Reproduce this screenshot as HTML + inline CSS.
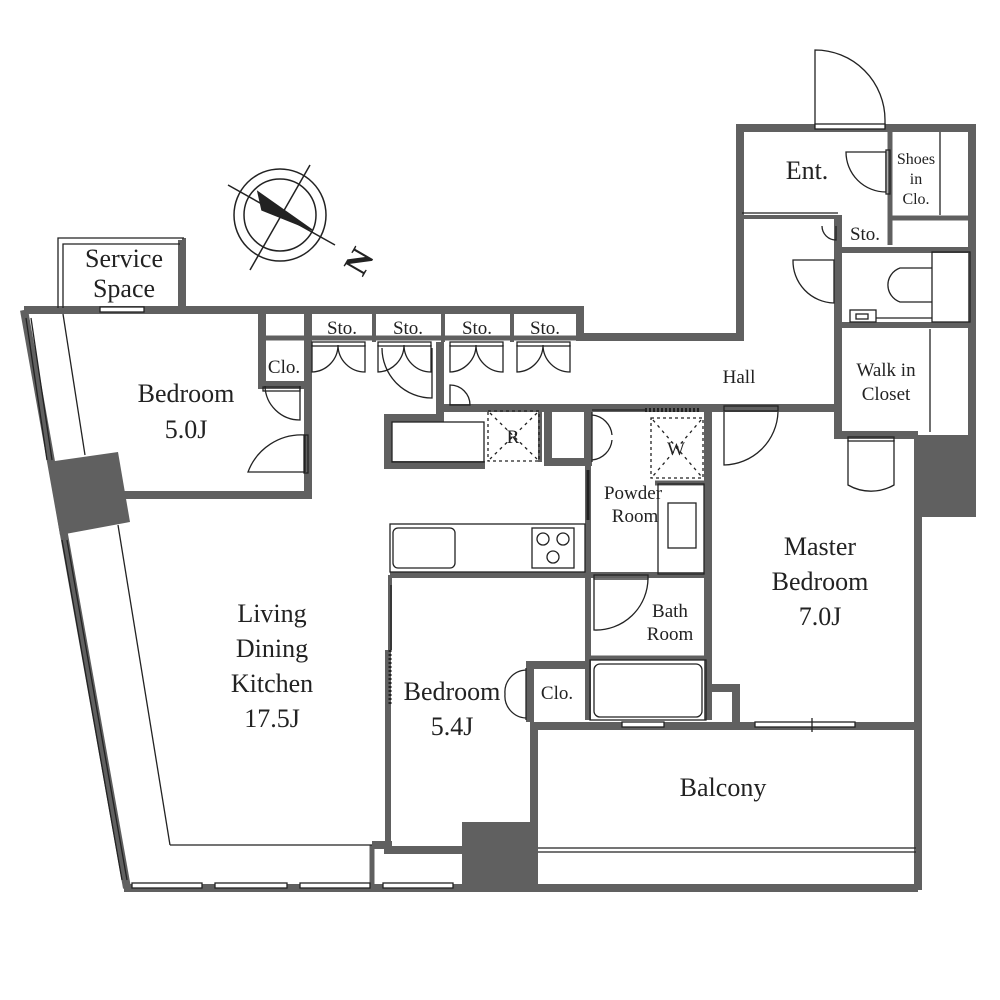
<!DOCTYPE html>
<html><head><style>
html,body{margin:0;padding:0;background:#fff;}
svg{display:block;}
text{font-family:"Liberation Serif",serif;fill:#222;}
</style></head><body>
<svg width="1000" height="1000" viewBox="0 0 1000 1000" xmlns="http://www.w3.org/2000/svg">
<g fill="none" stroke="#606060" stroke-width="8" stroke-linejoin="miter">
<polyline points="24,310 580,310 580,337 740,337 740,128 972,128 972,435"/>
<line x1="24" y1="310" x2="127" y2="888"/>
<line x1="124" y1="888" x2="462" y2="888"/>
<polyline points="182,310 182,240"/>
<polyline points="110,495 308,495 308,385"/>
<polyline points="262,310 262,385 308,385 308,310"/>
<line x1="262" y1="338" x2="580" y2="338" stroke-width="5"/>
<line x1="308" y1="314" x2="308" y2="342" stroke-width="4"/>
<line x1="374" y1="314" x2="374" y2="342" stroke-width="4"/>
<line x1="443" y1="314" x2="443" y2="342" stroke-width="4"/>
<line x1="512" y1="314" x2="512" y2="342" stroke-width="4"/>
<polyline points="440,342 440,408 838,408"/>
<polyline points="838,215 838,435 918,435"/>
<line x1="838" y1="325" x2="972" y2="325" stroke-width="6"/>
<line x1="838" y1="250" x2="972" y2="250" stroke-width="6"/>
<line x1="890" y1="128" x2="890" y2="245" stroke-width="5"/>
<line x1="890" y1="218" x2="972" y2="218" stroke-width="5"/>
<line x1="742" y1="217" x2="838" y2="217" stroke-width="4"/>
<polyline points="440,408 440,418 388,418 388,465 485,465"/>
<polyline points="548,408 548,462 588,462 588,408"/>
<line x1="485" y1="408" x2="548" y2="408"/>
<line x1="540" y1="408" x2="540" y2="462" stroke-width="4"/>
<line x1="588" y1="462" x2="588" y2="720" stroke-width="6"/>
<line x1="708" y1="408" x2="708" y2="720"/>
<line x1="655" y1="483" x2="708" y2="483" stroke-width="5"/>
<line x1="390" y1="575" x2="708" y2="575" stroke-width="6"/>
<line x1="588" y1="658" x2="708" y2="658" stroke-width="5"/>
<polyline points="708,688 736,688 736,722"/>
<line x1="390" y1="575" x2="390" y2="650" stroke-width="4"/>
<line x1="388" y1="650" x2="388" y2="845" stroke-width="6"/>
<polyline points="530,722 530,665 588,665"/>
<polyline points="372,845 388,845 388,850 462,850"/>
<line x1="372" y1="845" x2="372" y2="888" stroke-width="5"/>
<line x1="918" y1="435" x2="918" y2="890"/>
<line x1="530" y1="726" x2="918" y2="726"/>
<line x1="534" y1="726" x2="534" y2="890"/>
<line x1="534" y1="888" x2="918" y2="888"/>
</g>
<g fill="#606060">
<polygon points="48,462 118,452 130,522 60,535"/>
<rect x="918" y="435" width="58" height="82"/>
<rect x="462" y="822" width="72" height="70"/>
<rect x="182" y="238" width="4" height="72"/>
</g>
<g fill="none" stroke="#222" stroke-width="1.3">
<polyline points="58,308 58,238 184,238"/>
<polyline points="63,308 63,244 180,244"/>
<rect x="100" y="307" width="44" height="5" fill="#fff"/>
<line x1="26" y1="318" x2="47" y2="460"/>
<line x1="31" y1="318" x2="52" y2="460"/>
<line x1="62" y1="540" x2="122" y2="880"/>
<line x1="67" y1="540" x2="127" y2="880"/>
<line x1="63" y1="314" x2="85" y2="455"/>
<line x1="118" y1="525" x2="170" y2="845"/>
<line x1="170" y1="845" x2="372" y2="845"/>
<rect x="132" y="883" width="70" height="5" fill="#fff"/>
<rect x="215" y="883" width="72" height="5" fill="#fff"/>
<rect x="300" y="883" width="70" height="5" fill="#fff"/>
<rect x="383" y="883" width="70" height="5" fill="#fff"/>
<line x1="538" y1="848" x2="916" y2="848"/>
<line x1="538" y1="852" x2="916" y2="852"/>
<path d="M300,386 L300,420 A35,35 0 0 1 265,386"/>
<rect x="263" y="387" width="37" height="4"/>
<path d="M305,435 L305,472 M305,472 L248,472 A57,57 0 0 1 305,435"/>
<rect x="304" y="435" width="4" height="38"/>
<g id="sd">
<path d="M312,345 L312,372 A27,27 0 0 0 338,345 M365,345 L365,372 A27,27 0 0 1 338,345"/>
<rect x="312" y="342" width="53" height="4"/>
</g>
<use href="#sd" x="66"/><use href="#sd" x="138"/><use href="#sd" x="205"/>
<path d="M382,348 A50,50 0 0 0 432,398 L432,348"/>
<path d="M450,385 A20,20 0 0 1 470,405 L450,405 Z"/>
<rect x="392" y="422" width="92" height="40"/>
<rect x="488" y="411" width="51" height="50" stroke-dasharray="3,3"/>
<line x1="490" y1="413" x2="537" y2="459" stroke-dasharray="3,4"/>
<line x1="537" y1="413" x2="490" y2="459" stroke-dasharray="3,4"/>
<rect x="390" y="524" width="195" height="48"/>
<rect x="393" y="528" width="62" height="40" rx="5"/>
<rect x="532" y="528" width="42" height="40"/>
<circle cx="543" cy="539" r="6"/><circle cx="563" cy="539" r="6"/><circle cx="553" cy="557" r="6"/>
<line x1="588" y1="470" x2="588" y2="520" stroke-width="3"/>
<path d="M592,412 L592,462 M592,415 A22,22 0 0 1 612,435 M592,460 A22,22 0 0 0 612,440"/>
<rect x="651" y="418" width="52" height="60" stroke-dasharray="3,3"/>
<line x1="653" y1="420" x2="701" y2="476" stroke-dasharray="3,4"/>
<line x1="701" y1="420" x2="653" y2="476" stroke-dasharray="3,4"/>
<line x1="592" y1="410" x2="645" y2="410"/>
<line x1="645" y1="410" x2="700" y2="410" stroke-width="4" stroke-dasharray="2,2"/>
<rect x="658" y="484" width="46" height="90"/>
<rect x="668" y="503" width="28" height="45"/>
<path d="M594,578 L594,630 A52,52 0 0 0 648,578"/>
<rect x="594" y="575" width="54" height="4"/>
<rect x="590" y="660" width="116" height="60"/>
<rect x="594" y="664" width="108" height="53" rx="6"/>
<rect x="622" y="722" width="42" height="5" fill="#fff"/>
<rect x="755" y="722" width="100" height="5" fill="#fff"/>
<line x1="812" y1="718" x2="812" y2="732"/>
<line x1="391" y1="585" x2="391" y2="650"/>
<line x1="390" y1="650" x2="390" y2="705" stroke-width="3" stroke-dasharray="2,2"/>
<path d="M526,668 L526,720 M526,670 A22,22 0 0 0 505,694 A22,22 0 0 0 526,718"/>
<path d="M724,412 L724,465 A55,55 0 0 0 778,412"/>
<rect x="724" y="406" width="54" height="5"/>
<path d="M848,440 L848,485 A46,46 0 0 0 894,485 L894,440"/>
<rect x="848" y="437" width="46" height="4"/>
<path d="M834,260 L834,303 A42,42 0 0 1 793,260 Z"/>
<path d="M836,226 L836,240 A14,14 0 0 1 822,226"/>
<path d="M886,152 L886,192 A40,40 0 0 1 846,152 Z"/>
<rect x="886" y="150" width="4" height="44"/>
<path d="M815,128 L815,50 A70,70 0 0 1 885,120 L885,128"/>
<rect x="815" y="124" width="70" height="5" fill="#fff"/>
<line x1="742" y1="213" x2="838" y2="213"/>
<line x1="940" y1="132" x2="940" y2="215"/>
<line x1="930" y1="329" x2="930" y2="432"/>
<rect x="932" y="252" width="38" height="70"/>
<path d="M932,268 L900,268 A18,18 0 0 0 900,302 L932,302"/>
<rect x="850" y="310" width="26" height="12"/><rect x="856" y="314" width="12" height="5"/>
<line x1="876" y1="318" x2="932" y2="318"/>
</g>
<g fill="none" stroke="#222" stroke-width="1.5">
<circle cx="280" cy="215" r="46"/><circle cx="280" cy="215" r="36"/>
<line x1="228" y1="185" x2="335" y2="245"/>
<line x1="310" y1="165" x2="250" y2="270"/>
<polygon points="258,192 312,230 262,210" fill="#222"/>
</g>
<text x="360" y="272" font-size="34" transform="rotate(-60 360 262)" text-anchor="middle" font-weight="bold">N</text>
<g font-size="26" text-anchor="middle">
<text x="124" y="267">Service</text><text x="124" y="297">Space</text>
<text x="186" y="402">Bedroom</text><text x="186" y="438">5.0J</text>
<text x="272" y="622">Living</text><text x="272" y="657">Dining</text><text x="272" y="692">Kitchen</text><text x="272" y="727">17.5J</text>
<text x="452" y="700">Bedroom</text><text x="452" y="735">5.4J</text>
<text x="820" y="555">Master</text><text x="820" y="590">Bedroom</text><text x="820" y="625">7.0J</text>
<text x="723" y="796">Balcony</text>
<text x="807" y="179">Ent.</text>
</g>
<g font-size="19" text-anchor="middle">
<text x="342" y="334">Sto.</text><text x="408" y="334">Sto.</text><text x="477" y="334">Sto.</text><text x="545" y="334">Sto.</text>
<text x="284" y="373">Clo.</text>
<text x="739" y="383">Hall</text>
<text x="886" y="376">Walk in</text><text x="886" y="400">Closet</text>
<text x="865" y="240">Sto.</text>
<text x="916" y="164" font-size="16">Shoes</text><text x="916" y="184" font-size="16">in</text><text x="916" y="204" font-size="16">Clo.</text>
<text x="633" y="499">Powder</text><text x="635" y="522">Room</text>
<text x="670" y="617">Bath</text><text x="670" y="640">Room</text>
<text x="557" y="699">Clo.</text>
<text x="513" y="443">R</text><text x="676" y="455">W</text>
</g>
</svg>
</body></html>
